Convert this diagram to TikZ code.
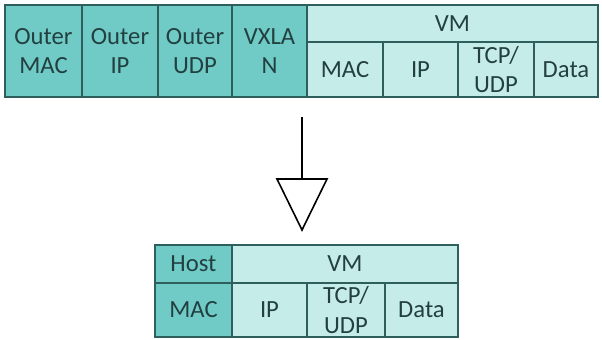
\documentclass[tikz,border=0pt]{standalone}
\usepackage{fontspec}
\setmainfont{Carlito}
\definecolor{dark}{HTML}{70CBC7}
\definecolor{light}{HTML}{C6ECEA}
\definecolor{edge}{HTML}{2F5F5D}
\definecolor{txt}{HTML}{22403F}
\tikzset{
  cell/.style={draw=edge, line width=1.1pt, inner sep=0pt, outer sep=0pt, align=center,
    anchor=north west, text=txt, font=\fontsize{18.5}{22}\selectfont},
  dcell/.style={cell, fill=dark},
  lcell/.style={cell, fill=light},
  arrowline/.style={draw=black, line width=1.2pt},
}
\begin{document}
\begin{tikzpicture}[x=0.75pt,y=-0.75pt]
\useasboundingbox (0,0) rectangle (602,339);
% top packet
\node[dcell, minimum width=57.75pt, minimum height=69pt] (omac) at (5,5) {Outer\\MAC};
\node[dcell, minimum width=57pt, minimum height=69pt] (oip) at (82,5) {Outer\\IP};
\node[dcell, minimum width=55.5pt, minimum height=69pt] (oudp) at (158,5) {Outer\\UDP};
\node[dcell, minimum width=56.25pt, minimum height=69pt] (vxlan) at (232,5) {VXLA\\N};
\node[lcell, minimum width=218.25pt, minimum height=27.75pt] (vm1) at (307,5) {VM};
\node[lcell, minimum width=57pt, minimum height=41.25pt] (mac1) at (307,42) {MAC};
\node[lcell, minimum width=56.25pt, minimum height=41.25pt] (ip1) at (383,42) {IP};
\node[lcell, minimum width=57pt, minimum height=41.25pt] (tcp1) at (458,42) {TCP/\\UDP};
\node[lcell, minimum width=48pt, minimum height=41.25pt] (data1) at (534,42) {Data};
% arrow
\coordinate (a1) at (302,117);
\coordinate (a2) at (302,179);
\coordinate (tl) at (277,179);
\coordinate (tr) at (327,179);
\coordinate (tip) at (302,230);
\draw[arrowline] (a1) -- (a2);
\draw[arrowline, line join=miter] (tl) -- (tr) -- (tip) -- cycle;
% bottom packet
\node[dcell, minimum width=57.75pt, minimum height=28.5pt] (host) at (155,245) {Host};
\node[lcell, minimum width=169.5pt, minimum height=28.5pt] (vm2) at (232,245) {VM};
\node[dcell, minimum width=57.75pt, minimum height=40.5pt] (mac2) at (155,283) {MAC};
\node[lcell, minimum width=56.25pt, minimum height=40.5pt] (ip2) at (232,283) {IP};
\node[lcell, minimum width=58.5pt, minimum height=40.5pt] (tcp2) at (307,283) {TCP/\\UDP};
\node[lcell, minimum width=54.75pt, minimum height=40.5pt] (data2) at (385,283) {Data};
\end{tikzpicture}
\end{document}
